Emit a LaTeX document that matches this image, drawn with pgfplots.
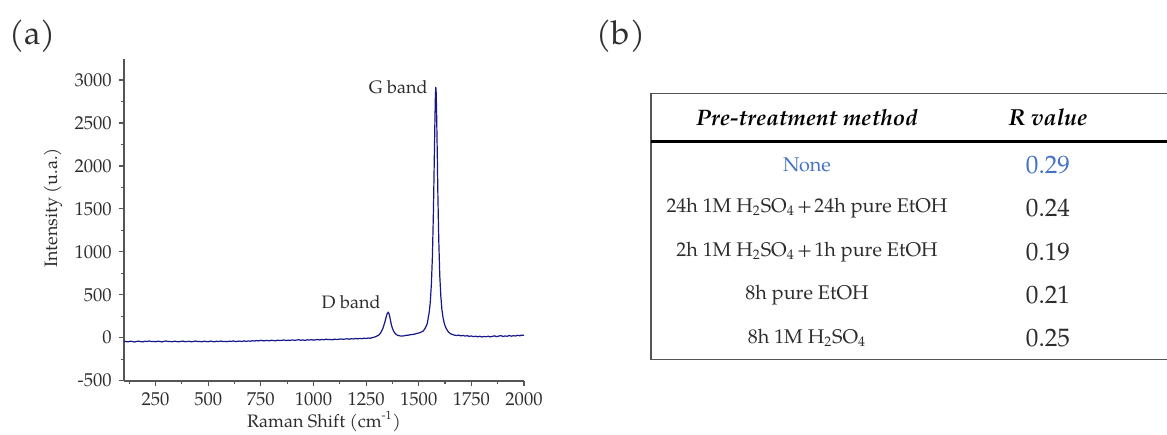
\documentclass[border=0pt]{standalone}
\usepackage{pgfplots}
\pgfplotsset{compat=1.18}
\usepackage{fontspec}
\setmainfont{TeX Gyre Pagella}
\definecolor{spec}{RGB}{22,22,140}
\definecolor{noneblue}{RGB}{68,114,196}
\definecolor{axgray}{RGB}{85,85,85}
\definecolor{txt}{RGB}{45,45,45}
\begin{document}
\begin{tikzpicture}
\path[use as bounding box] (0pt,0pt) rectangle (583.5pt,-217pt);
% panel labels
\node[font=\fontsize{16.5}{18}\selectfont, text=txt] at (16.3pt,-18pt) {(a)};
\node[font=\fontsize{16.5}{18}\selectfont, text=txt] at (310.5pt,-18pt) {(b)};
\begin{axis}[
  scale only axis,
  width=200pt, height=161.1pt,
  at={(62pt,-190.35pt)}, anchor=south west,
  xmin=100, xmax=2000, ymin=-500, ymax=3250,
  axis lines=left,
  axis line style={-, axgray, line width=0.8pt},
  xtick={250,500,...,2000},
  ytick={-500,0,...,3000},
  minor xtick={125,375,...,1875},
  minor ytick={-250,250,...,2750},
  tick align=outside,
  major tick length=2.6pt,
  minor tick length=1.6pt,
  tick style={axgray, line width=0.6pt},
  scaled ticks=false,
  /pgf/number format/1000 sep={},
  /pgf/number format/assume math mode=true,
  tick label style={font=\fontsize{9.3}{11}\selectfont, text=txt},
  clip=false,
]
\addplot[spec, line width=0.6pt] coordinates {
(100,-38)(110,-45)(120,-48)(130,-40)(140,-44)(150,-50)(160,-43)(170,-39)(180,-46)(190,-48)
(200,-41)(210,-44)(220,-37)(230,-45)(240,-42)(250,-47)(260,-40)(270,-43)(280,-49)(290,-41)
(300,-38)(310,-45)(320,-43)(330,-47)(340,-40)(350,-44)(360,-48)(370,-42)(380,-39)(390,-46)
(400,-44)(410,-41)(420,-47)(430,-43)(440,-38)(450,-45)(460,-42)(470,-48)(480,-40)(490,-44)
(500,-46)(510,-39)(520,-43)(530,-47)(540,-41)(550,-44)(560,-38)(570,-45)(580,-42)(590,-46)
(600,-40)(610,-43)(620,-37)(630,-45)(640,-41)(650,-39)(660,-44)(670,-36)(680,-42)(690,-38)
(700,-40)(710,-35)(720,-39)(730,-33)(740,-37)(750,-30)(760,-36)(770,-34)(780,-31)(790,-36)
(800,-29)(810,-33)(820,-35)(830,-28)(840,-32)(850,-30)(860,-26)(870,-33)(880,-29)(890,-31)
(900,-25)(910,-30)(920,-27)(930,-23)(940,-29)(950,-26)(960,-31)(970,-24)(980,-27)(990,-22)
(1000,-28)(1010,-24)(1020,-20)(1030,-26)(1040,-21)(1050,-23)(1060,-17)(1070,-22)(1080,-19)(1090,-24)
(1100,-16)(1110,-20)(1120,-18)(1130,-14)(1140,-19)(1150,-15)(1160,-12)(1170,-17)(1180,-11)(1190,-14)
(1200,-9)(1210,-13)(1220,-8)(1230,-11)(1240,-5)(1250,-9)(1260,-3)(1270,-6)(1280,2)
(1290,8)(1300,18)(1310,30)(1320,60)(1330,110)(1340,190)(1345,240)(1350,280)(1355,296)(1358,285)
(1362,250)(1366,200)(1370,150)(1375,110)(1380,80)(1385,60)(1390,45)(1395,35)(1400,28)(1410,22)
(1420,20)(1430,22)(1440,28)(1450,30)(1460,35)(1470,38)(1480,42)(1490,50)(1500,55)(1510,64)
(1520,75)(1530,108)(1540,160)(1550,300)(1555,420)(1560,620)(1565,950)(1570,1500)(1574,2100)(1577,2550)
(1579,2800)(1581,2920)(1583,2850)(1585,2600)(1588,2150)(1591,1650)(1595,1150)(1600,720)(1605,480)(1610,330)
(1615,240)(1620,180)(1625,140)(1630,110)(1635,90)(1640,70)(1650,48)(1660,38)(1670,30)(1680,26)
(1690,31)(1700,22)(1710,27)(1720,19)(1730,24)(1740,16)(1750,21)(1760,13)(1770,18)(1780,11)
(1790,17)(1800,9)(1810,15)(1820,12)(1830,18)(1840,10)(1850,16)(1860,22)(1870,13)(1880,19)
(1890,25)(1900,15)(1910,21)(1920,17)(1930,26)(1940,18)(1950,24)(1960,20)(1970,29)(1980,23)
(1990,31)(2000,28)
};
\node[font=\fontsize{9}{11}\selectfont, text=txt] at (axis cs:1403,2915) {G band};
\node[font=\fontsize{9}{11}\selectfont, text=txt] at (axis cs:1179,419) {D band};
\end{axis}
% axis labels
\node[font=\fontsize{9}{11}\selectfont, text=txt] at (162pt,-210.85pt) {Raman Shift (cm\textsuperscript{-1})};
\node[font=\fontsize{9}{11}\selectfont, text=txt, rotate=90] at (26.5pt,-104pt) {Intensity (u.a.)};
% table
\draw[axgray, line width=0.6pt] (583.5pt,-46.65pt) -- (325.5pt,-46.65pt) -- (325.5pt,-179.65pt) -- (583.5pt,-179.65pt);
\draw[black, line width=1.4pt] (325.5pt,-70.85pt) -- (583.5pt,-70.85pt);
\node[font=\fontsize{11.2}{14}\selectfont\bfseries\itshape] at (403.5pt,-58.85pt) {Pre-treatment method};
\node[font=\fontsize{11.6}{14}\selectfont\bfseries\itshape] at (524pt,-58.85pt) {R value};
\begin{scope}[every node/.style={font=\fontsize{9.9}{12}\selectfont, text=txt}]
\node[text=noneblue] at (403.5pt,-82.5pt) {None};
\node at (403.5pt,-104.15pt) {24h 1M H\textsubscript{2}SO\textsubscript{4}\hspace{0.12em}+\hspace{0.12em}24h pure EtOH};
\node at (403.5pt,-125.85pt) {2h 1M H\textsubscript{2}SO\textsubscript{4}\hspace{0.12em}+\hspace{0.12em}1h pure EtOH};
\node at (403.5pt,-147.5pt) {8h pure EtOH};
\node at (403.5pt,-169.15pt) {8h 1M H\textsubscript{2}SO\textsubscript{4}};
\end{scope}
\begin{scope}[every node/.style={font=\fontsize{12.6}{14}\selectfont, text=txt}]
\node[text=noneblue] at (524pt,-82.5pt) {0.29};
\node at (524pt,-104.15pt) {0.24};
\node at (524pt,-125.85pt) {0.19};
\node at (524pt,-147.5pt) {0.21};
\node at (524pt,-169.15pt) {0.25};
\end{scope}
\end{tikzpicture}
\end{document}
